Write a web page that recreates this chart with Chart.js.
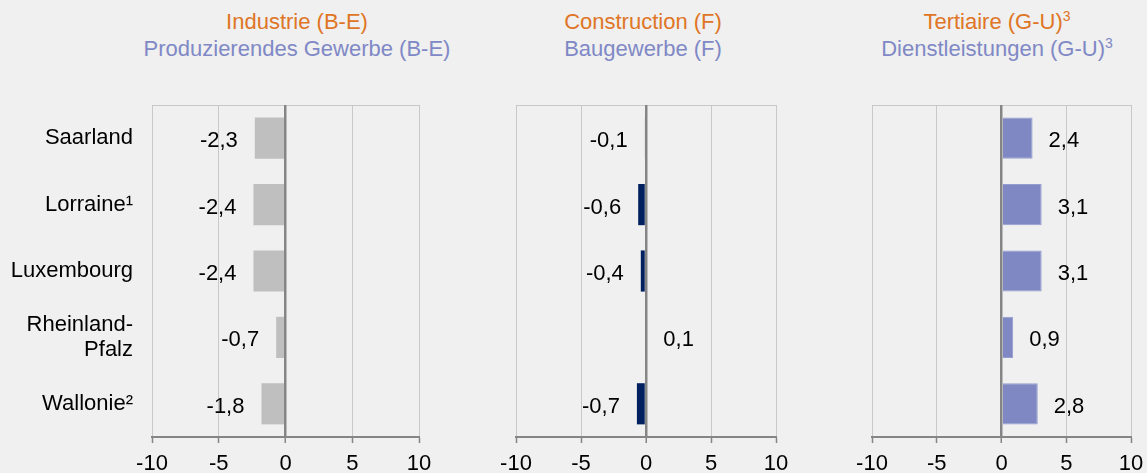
<!DOCTYPE html>
<html>
<head>
<meta charset="utf-8">
<script src="https://cdn.jsdelivr.net/npm/chart.js@4/dist/chart.umd.min.js"></script>
<style>
html,body{margin:0;padding:0;background:#eff0ef;}
body{width:1147px;height:473px;position:relative;overflow:hidden;font-family:"Liberation Sans",Arial,sans-serif;}
.panel{position:absolute;top:0;height:473px;}
.titel{position:absolute;top:8px;width:400px;margin-left:-200px;text-align:center;font-size:22px;line-height:27px;white-space:nowrap;}
.titel .fr{color:#e07526;}
.titel .de{color:#8088c6;}
.titel .hoch{font-size:14px;line-height:0;position:relative;top:-8px;}
</style>
</head>
<body>

<div class="titel" style="left:297px"><div class="fr">Industrie (B-E)</div><div class="de">Produzierendes Gewerbe (B-E)</div></div>
<div class="titel" style="left:643px"><div class="fr">Construction (F)</div><div class="de">Baugewerbe (F)</div></div>
<div class="titel" style="left:997px"><div class="fr">Tertiaire (G-U)<span class="hoch">3</span></div><div class="de">Dienstleistungen (G-U)<span class="hoch">3</span></div></div>

<div class="panel" style="left:0;width:440px"><canvas id="chartIndustrie"></canvas></div>
<div class="panel" style="left:460px;width:340px"><canvas id="chartBau"></canvas></div>
<div class="panel" style="left:820px;width:332px"><canvas id="chartDienst"></canvas></div>

<script>
// ==========================
// DATEN
// ==========================

const regionen = ["Saarland", "Lorraine¹", "Luxembourg", ["Rheinland-", "Pfalz"], "Wallonie²"];

const industrie = [-2.3, -2.4, -2.4, -0.7, -1.8];
const baugewerbe = [-0.1, -0.6, -0.4, 0.1, -0.7];
const dienstleistungen = [2.4, 3.1, 3.1, 0.9, 2.8];

const achsenTicks = [-10, -5, 0, 5, 10];


// ==========================
// SETTING DEFAULT CHART
// ==========================

Chart.defaults.font.family = "'Liberation Sans', Arial, sans-serif";
Chart.defaults.font.size = 22;
Chart.defaults.color = "#000000";

const HELLGRAU = "#c8c8c8";
const DUNKELGRAU = "#858585";


// Werte neben den Balken (nach dem Gitter gezeichnet)
const wertLabels = {
  id: "wertLabels",
  afterDraw(chart) {
    const ctx = chart.ctx;
    const werte = chart.data.datasets[0].data;
    ctx.save();
    ctx.font = "22px 'Liberation Sans', Arial, sans-serif";
    ctx.fillStyle = "#000000";
    ctx.textBaseline = "middle";
    chart.getDatasetMeta(0).data.forEach((bar, i) => {
      const txt = werte[i].toFixed(1).replace(".", ",");
      if (werte[i] < 0) {
        ctx.textAlign = "right";
        ctx.fillText(txt, bar.x - 17, bar.y + 3);
      } else {
        ctx.textAlign = "left";
        ctx.fillText(txt, bar.x + 16, bar.y + 3);
      }
    });
    ctx.restore();
  }
};

// obere Linie des Plotbereichs
const obereLinie = {
  id: "obereLinie",
  beforeDatasetsDraw(chart) {
    const a = chart.chartArea;
    const ctx = chart.ctx;
    const y = Math.round(a.top) + 0.5;
    ctx.save();
    ctx.strokeStyle = HELLGRAU;
    ctx.lineWidth = 1;
    ctx.beginPath();
    ctx.moveTo(a.left, y);
    ctx.lineTo(a.right, y);
    ctx.stroke();
    ctx.restore();
  }
};


function optionen(mitLabels, padLinks, padRechts) {
  return {
    indexAxis: "y",
    responsive: true,
    maintainAspectRatio: false,
    animation: false,
    layout: { padding: { top: 105, left: padLinks, right: padRechts, bottom: 0 } },
    plugins: { legend: { display: false }, tooltip: { enabled: false } },
    scales: {
      x: {
        min: -10,
        max: 10,
        afterBuildTicks: s => { s.ticks = achsenTicks.map(v => ({ value: v })); },
        afterFit: s => { s.height = 36; },
        ticks: { padding: 8, callback: v => String(v), maxRotation: 0 },
        grid: {
          z: 1,
          color: c => c.tick && c.tick.value === 0 ? DUNKELGRAU : HELLGRAU,
          lineWidth: c => c.tick && c.tick.value === 0 ? 2.5 : 1,
          tickLength: 6,
          tickColor: DUNKELGRAU,
          tickWidth: 1.5
        },
        border: { display: true, color: DUNKELGRAU, width: 2, z: 2 }
      },
      y: mitLabels ? {
        afterFit: s => { s.width = 152; },
        ticks: { padding: 19, font: { size: 22, lineHeight: 1.15 } },
        grid: { display: false, drawTicks: false },
        border: { display: false }
      } : { display: false }
    }
  };
}


// ==========================
// 1. INDUSTRIE
// ==========================

new Chart(document.getElementById("chartIndustrie"), {
  type: "bar",
  data: {
    labels: regionen,
    datasets: [{
      data: industrie,
      backgroundColor: "#bfbfbf",
      borderWidth: 0,
      barPercentage: 0.62,
      categoryPercentage: 1
    }]
  },
  options: optionen(true, 0, 21),
  plugins: [obereLinie, wertLabels]
});


// ==========================
// 2. BAUGEWERBE
// ==========================

new Chart(document.getElementById("chartBau"), {
  type: "bar",
  data: {
    labels: regionen,
    datasets: [{
      data: baugewerbe,
      backgroundColor: c => c.raw >= 0 ? "#aab0dc" : "#002060",
      borderWidth: 0,
      barPercentage: 0.62,
      categoryPercentage: 1
    }]
  },
  options: optionen(false, 56, 24),
  plugins: [obereLinie, wertLabels]
});


// ==========================
// 3. DIENSTLEISTUNGEN
// ==========================

new Chart(document.getElementById("chartDienst"), {
  type: "bar",
  data: {
    labels: regionen,
    datasets: [{
      data: dienstleistungen,
      backgroundColor: "#7f88c2",
      borderColor: "#959cd0",
      borderWidth: 1,
      barPercentage: 0.62,
      categoryPercentage: 1
    }]
  },
  options: optionen(false, 52, 21),
  plugins: [obereLinie, wertLabels]
});
</script>
</body>
</html>
